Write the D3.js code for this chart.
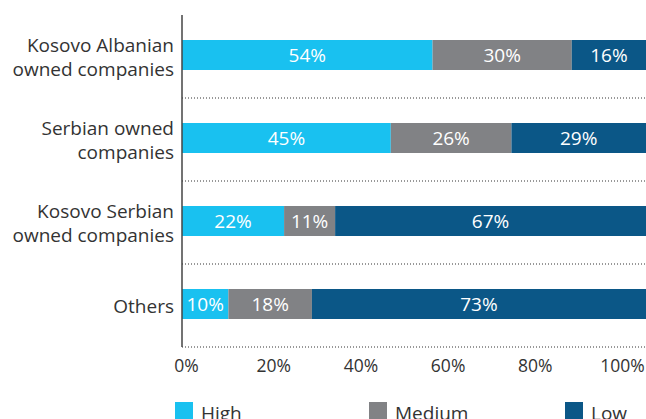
<!DOCTYPE html>
<html>
<head>
    <script src="https://d3js.org/d3.v7.min.js" charset="utf-8"></script>
    <style>
        body { margin: 0; background: #fff; }
        text { font-family: "Open Sans", sans-serif; }
    </style>
</head>
<body>
    <svg></svg>
    <script>
        // data
        var categories = [
            ["Kosovo Albanian", "owned companies"],
            ["Serbian owned", "companies"],
            ["Kosovo Serbian", "owned companies"],
            ["Others"]
        ];
        var seriesNames = ["High", "Medium", "Low"];
        var high = [54, 45, 22, 10];
        var medium = [30, 26, 11, 18];
        var low = [16, 29, 67, 73];
        var tickValues = [0, 20, 40, 60, 80, 100];
        var colors = ["#19c1f0", "#818285", "#0b5787"];

        var width = 646;
        var height = 419;

        var svg = d3.select("svg")
            .attr("width", width)
            .attr("height", height);

        var rows = categories.map(function (c, i) {
            return { name: c, i: i, values: [high[i], medium[i], low[i]] };
        });

        // bar scale
        var x = d3.scaleLinear().domain([0, 100]).range([182, 646]);
        // tick labels sit a bit tighter than the bars in the original
        var xTicks = d3.scaleLinear().domain([0, 100]).range([186, 622]);
        var y = d3.scaleBand()
            .domain(d3.range(categories.length))
            .range([15, 347]);
        var barH = 30;

        var g = svg.append("g");

        // dotted separators
        g.selectAll("line.sep")
            .data(rows)
            .enter()
            .append("line")
            .attr("class", "sep")
            .attr("x1", x(0))
            .attr("x2", width)
            .attr("y1", function (d) { return y(d.i) + y.bandwidth(); })
            .attr("y2", function (d) { return y(d.i) + y.bandwidth(); })
            .attr("stroke", "#333")
            .attr("stroke-width", 1)
            .attr("stroke-dasharray", "1,2");

        // stacked segments
        var rowG = g.selectAll("g.row")
            .data(rows)
            .enter()
            .append("g")
            .attr("class", "row")
            .attr("transform", function (d) {
                return "translate(0," + (y(d.i) + (y.bandwidth() - barH) / 2 - 1.5) + ")";
            });

        var segs = rowG.selectAll("g.seg")
            .data(function (d) {
                var acc = 0;
                return d.values.map(function (v, k) {
                    var s = { start: acc, v: v, k: k };
                    acc += v;
                    return s;
                });
            })
            .enter()
            .append("g")
            .attr("class", "seg");

        segs.append("rect")
            .attr("x", function (d) { return x(d.start); })
            .attr("width", function (d) { return x(d.start + d.v) - x(d.start); })
            .attr("height", barH)
            .attr("fill", function (d) { return colors[d.k]; });

        segs.append("text")
            .attr("x", function (d) { return (x(d.start) + x(Math.min(d.start + d.v, 100))) / 2; })
            .attr("y", barH / 2)
            .attr("dy", "0.35em")
            .attr("text-anchor", "middle")
            .attr("fill", "#fff")
            .attr("font-size", 19)
            .text(function (d) { return d.v + "%"; });

        // category labels
        var labels = g.selectAll("text.cat")
            .data(rows)
            .enter()
            .append("text")
            .attr("class", "cat")
            .attr("text-anchor", "end")
            .attr("fill", "#333")
            .attr("font-size", 19);

        labels.selectAll("tspan")
            .data(function (d) {
                var cy = y(d.i) + y.bandwidth() / 2;
                var n = d.name.length;
                return d.name.map(function (t, j) {
                    return { t: t, y: cy + (j - (n - 1) / 2) * 24 + 1 };
                });
            })
            .enter()
            .append("tspan")
            .attr("x", 174)
            .attr("y", function (d) { return d.y; })
            .attr("dy", "0.35em")
            .text(function (d) { return d.t; });

        // vertical axis line
        g.append("line")
            .attr("x1", x(0))
            .attr("x2", x(0))
            .attr("y1", 15)
            .attr("y2", 347)
            .attr("stroke", "#444")
            .attr("stroke-width", 1.5);

        // x axis labels
        var xAxis = d3.axisBottom(xTicks)
            .tickValues(tickValues)
            .tickSize(0)
            .tickPadding(0)
            .tickFormat(function (d) { return d + "%"; });

        var ax = g.append("g")
            .attr("transform", "translate(0,360)")
            .call(xAxis);
        ax.select(".domain").remove();
        ax.selectAll("text")
            .attr("font-family", "Open Sans, sans-serif")
            .attr("font-size", 17.5)
            .attr("fill", "#333");

        // legend
        var legendX = [175, 369, 565];
        var leg = g.selectAll("g.leg")
            .data(seriesNames)
            .enter()
            .append("g")
            .attr("class", "leg")
            .attr("transform", function (d, k) { return "translate(" + legendX[k] + ",402)"; });
        leg.append("rect")
            .attr("width", 18)
            .attr("height", 18)
            .attr("fill", function (d, k) { return colors[k]; });
        leg.append("text")
            .attr("x", 26)
            .attr("y", 11)
            .attr("dy", "0.35em")
            .attr("fill", "#333")
            .attr("font-size", 19)
            .text(function (d) { return d; });
    </script>
</body>
</html>
